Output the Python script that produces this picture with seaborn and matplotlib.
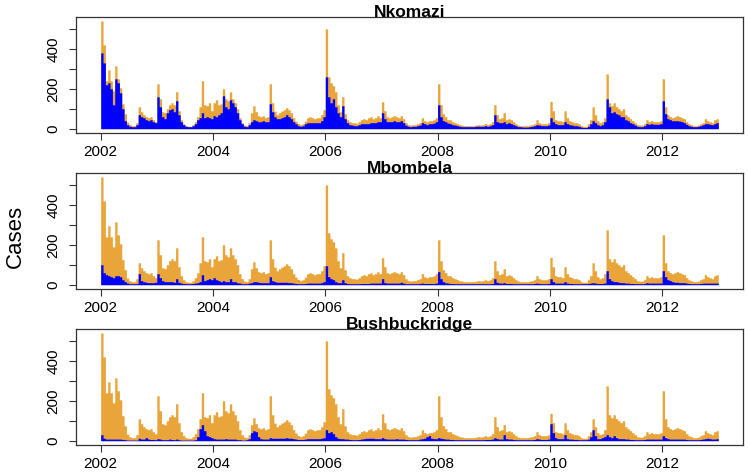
import matplotlib
matplotlib.use("Agg")
import matplotlib.pyplot as plt
import numpy as np
import pandas as pd
import seaborn as sns

# semi-monthly case counts, one row per year 2002..2012 (24 values each)
total_cases = [
    [540, 420, 240, 295, 240, 190, 315, 250, 205, 125, 75, 33, 20, 15, 15, 30, 110, 85, 70, 60, 55, 60, 45, 35],
    [225, 150, 85, 80, 100, 120, 130, 120, 185, 90, 45, 25, 15, 12, 12, 20, 35, 60, 110, 240, 120, 115, 130, 90],
    [130, 145, 120, 125, 200, 150, 140, 185, 150, 130, 100, 55, 30, 18, 15, 30, 80, 115, 85, 65, 60, 65, 55, 60],
    [225, 130, 88, 70, 80, 88, 95, 105, 95, 80, 55, 38, 26, 20, 25, 38, 55, 60, 55, 50, 55, 55, 70, 95],
    [500, 260, 230, 215, 185, 120, 85, 160, 75, 45, 35, 30, 30, 28, 35, 45, 50, 45, 55, 60, 50, 55, 65, 55],
    [135, 90, 60, 55, 60, 65, 60, 55, 65, 50, 30, 20, 18, 20, 20, 25, 30, 55, 40, 35, 40, 40, 45, 55],
    [225, 120, 75, 60, 45, 45, 35, 30, 25, 20, 18, 15, 15, 15, 15, 15, 18, 20, 18, 20, 25, 20, 25, 35],
    [120, 70, 50, 55, 80, 45, 50, 45, 35, 25, 18, 15, 15, 15, 15, 18, 20, 25, 45, 30, 25, 25, 25, 30],
    [137, 90, 45, 40, 40, 35, 90, 55, 40, 35, 30, 30, 25, 15, 12, 12, 25, 45, 110, 70, 40, 30, 35, 55],
    [275, 130, 115, 130, 110, 100, 90, 100, 70, 60, 50, 40, 30, 20, 18, 18, 25, 45, 35, 40, 35, 35, 35, 40],
    [250, 110, 70, 60, 55, 60, 65, 60, 55, 50, 35, 25, 20, 15, 15, 18, 25, 30, 50, 40, 35, 30, 45, 50],
]

nkomazi = [
    [380, 330, 220, 230, 200, 120, 250, 230, 180, 100, 40, 20, 12, 10, 10, 20, 70, 60, 55, 45, 40, 45, 35, 30],
    [160, 110, 60, 50, 80, 95, 100, 85, 140, 70, 35, 20, 12, 10, 10, 15, 25, 45, 55, 80, 55, 60, 55, 50],
    [65, 60, 70, 80, 165, 110, 100, 145, 130, 110, 80, 45, 25, 12, 10, 20, 35, 45, 40, 35, 35, 40, 35, 35],
    [125, 85, 60, 50, 50, 55, 60, 70, 60, 50, 35, 25, 15, 12, 15, 25, 30, 30, 30, 30, 30, 30, 40, 60],
    [260, 160, 130, 150, 110, 80, 60, 115, 50, 30, 20, 18, 15, 15, 20, 25, 25, 25, 25, 30, 30, 30, 35, 35],
    [80, 50, 35, 35, 35, 40, 35, 35, 40, 30, 18, 12, 10, 12, 12, 15, 18, 30, 25, 20, 25, 25, 28, 35],
    [120, 60, 40, 35, 28, 25, 20, 18, 15, 12, 10, 10, 10, 10, 10, 10, 12, 12, 12, 12, 15, 12, 15, 20],
    [70, 35, 30, 30, 35, 25, 30, 25, 20, 15, 10, 10, 8, 8, 8, 10, 12, 15, 20, 18, 15, 15, 15, 18],
    [55, 35, 25, 20, 20, 20, 35, 25, 20, 18, 15, 15, 12, 8, 6, 6, 12, 25, 40, 30, 20, 15, 20, 35],
    [150, 110, 80, 85, 75, 70, 60, 60, 45, 40, 30, 25, 18, 12, 10, 10, 15, 25, 22, 25, 22, 22, 22, 25],
    [140, 75, 50, 45, 40, 40, 40, 38, 35, 30, 22, 15, 12, 10, 10, 12, 15, 20, 25, 25, 22, 20, 25, 30],
]

mbombela = [
    [100, 60, 50, 45, 40, 35, 45, 45, 40, 25, 15, 8, 5, 5, 5, 5, 55, 20, 15, 12, 10, 10, 10, 12],
    [55, 35, 20, 15, 15, 15, 15, 12, 30, 12, 8, 6, 5, 5, 5, 6, 8, 10, 15, 50, 20, 25, 30, 25],
    [35, 25, 20, 15, 20, 15, 15, 30, 15, 15, 10, 8, 5, 5, 5, 8, 10, 15, 15, 12, 10, 10, 10, 10],
    [40, 20, 15, 12, 12, 12, 12, 12, 10, 10, 8, 6, 5, 5, 5, 6, 8, 8, 8, 8, 8, 8, 10, 15],
    [95, 40, 30, 25, 15, 10, 10, 25, 10, 6, 5, 5, 5, 5, 5, 6, 6, 6, 6, 8, 8, 8, 8, 8],
    [30, 10, 8, 8, 8, 8, 8, 8, 12, 8, 5, 5, 5, 5, 5, 5, 6, 8, 6, 6, 6, 6, 6, 8],
    [65, 30, 15, 10, 8, 6, 6, 5, 5, 5, 5, 5, 5, 5, 5, 5, 5, 5, 5, 5, 5, 5, 5, 6],
    [30, 12, 8, 8, 10, 6, 6, 6, 5, 5, 5, 5, 5, 5, 5, 5, 5, 6, 8, 6, 5, 5, 5, 6],
    [30, 15, 8, 8, 8, 8, 15, 8, 6, 6, 5, 5, 5, 5, 5, 5, 6, 8, 10, 8, 6, 6, 6, 8],
    [70, 30, 20, 15, 15, 12, 10, 10, 8, 8, 6, 6, 5, 5, 5, 5, 6, 10, 8, 8, 8, 8, 8, 8],
    [70, 40, 25, 20, 15, 12, 12, 10, 10, 10, 8, 6, 5, 5, 5, 5, 6, 8, 8, 8, 8, 8, 8, 8],
]

bushbuckridge = [
    [30, 12, 8, 8, 8, 8, 8, 8, 8, 6, 5, 3, 3, 3, 3, 3, 12, 8, 8, 15, 8, 6, 6, 5],
    [10, 8, 5, 5, 5, 8, 6, 5, 8, 5, 3, 3, 3, 3, 3, 3, 5, 20, 60, 80, 50, 25, 20, 15],
    [10, 8, 8, 8, 8, 10, 8, 8, 8, 8, 5, 5, 3, 3, 5, 10, 40, 50, 45, 20, 10, 8, 8, 8],
    [15, 12, 12, 12, 12, 12, 12, 15, 12, 12, 10, 8, 6, 6, 6, 8, 10, 10, 10, 10, 10, 10, 12, 15],
    [55, 40, 45, 35, 20, 12, 10, 10, 8, 8, 6, 5, 5, 5, 6, 8, 10, 12, 12, 12, 12, 10, 10, 10],
    [15, 10, 8, 8, 8, 8, 10, 8, 8, 8, 6, 5, 5, 5, 5, 5, 8, 10, 12, 20, 25, 12, 10, 10],
    [15, 12, 10, 8, 8, 6, 6, 5, 5, 5, 5, 5, 5, 5, 5, 5, 5, 5, 5, 5, 6, 6, 6, 8],
    [15, 10, 8, 8, 30, 10, 8, 8, 6, 5, 5, 5, 5, 5, 5, 5, 5, 6, 10, 8, 6, 6, 6, 8],
    [85, 40, 15, 10, 10, 10, 30, 10, 8, 8, 6, 6, 5, 5, 5, 5, 8, 20, 55, 25, 10, 10, 15, 20],
    [30, 20, 15, 25, 15, 10, 10, 10, 8, 8, 6, 6, 5, 5, 5, 5, 6, 8, 8, 8, 8, 8, 8, 8],
    [25, 15, 10, 8, 8, 8, 8, 8, 8, 8, 6, 5, 5, 5, 5, 5, 6, 8, 10, 12, 10, 8, 8, 10],
]

district_names = ["Nkomazi", "Mbombela", "Bushbuckridge"]
district_cases = [nkomazi, mbombela, bushbuckridge]

ORANGE = "#E9A53A"
BLUE = "#0000FF"

n = 24 * len(total_cases)
df = pd.DataFrame({"t": 2002 + (np.arange(n) + 0.5) / 24,
                   "total": np.concatenate(total_cases)})
for name, cases in zip(district_names, district_cases):
    df[name] = np.concatenate(cases)

sns.set_style("ticks")
plt.rcParams["font.family"] = ["Liberation Sans", "DejaVu Sans"]
plt.rcParams["text.color"] = "black"

fig = plt.figure(figsize=(7.48, 4.73), dpi=100)
bottoms = [0.7188, 0.389, 0.0592]
hist_kw = dict(x="t", binwidth=1 / 24, binrange=(2002, 2013), element="step",
               fill=True, alpha=1, linewidth=0)

for name, b in zip(district_names, bottoms):
    ax = fig.add_axes([0.1016, b, 0.8917, 0.246])
    sns.histplot(data=df, weights="total", color=ORANGE, ax=ax, **hist_kw)
    sns.histplot(data=df, weights=name, color=BLUE, ax=ax, **hist_kw)
    ax.set_xlim(2001.56, 2013.44)
    ax.set_ylim(-21.6, 561.6)
    ax.set_xticks(range(2002, 2013, 2))
    ax.set_yticks(range(0, 501, 100))
    ax.set_yticklabels(["0", "", "200", "", "400", ""])
    ax.set_xlabel("")
    ax.set_ylabel("")
    for s in ax.spines.values():
        s.set_color("#333333")
        s.set_linewidth(0.9)
    ax.tick_params(axis="both", length=5, width=0.8, color="#333333", labelsize=11, labelcolor="black")
    ax.tick_params(axis="x", pad=3.5)
    ax.tick_params(axis="y", pad=6, labelrotation=90)
    for lab in ax.get_yticklabels():
        lab.set_va("center")
    # title sits just on the top edge of the box
    ax.text(0.5, 1.0, name, transform=ax.transAxes, ha="center", va="baseline",
            fontweight="bold", fontsize=12.5, color="black")

fig.text(0.0207, 0.5, "Cases", rotation=90, fontsize=16, ha="center", va="center", color="black")

fig.savefig("out.png", dpi=100)
